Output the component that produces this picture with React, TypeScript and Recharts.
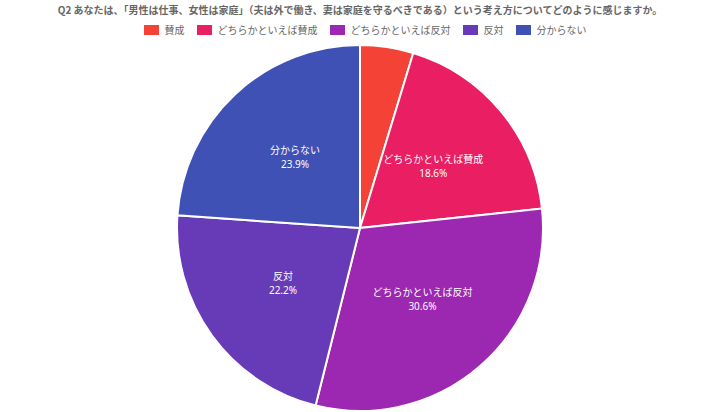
import React from 'react';
import { PieChart, Pie, Cell } from 'recharts';

const title = 'Q2 あなたは、「男性は仕事、女性は家庭」（夫は外で働き、妻は家庭を守るべきである）という考え方についてどのように感じますか。';
const categories = ['賛成', 'どちらかといえば賛成', 'どちらかといえば反対', '反対', '分からない'];
const shares = [4.7, 18.6, 30.6, 22.2, 23.9];
const colors = ['#f44336', '#e91e63', '#9c27b0', '#673ab7', '#3f51b5'];

const data = categories.map((name, i) => ({ name, value: shares[i] }));

const FONT = '"Noto Sans CJK JP", "Noto Sans", sans-serif';
const RAD = Math.PI / 180;

const renderLabel = (props: any) => {
    const { cx, cy, midAngle, outerRadius, name, value } = props;
    // tiny slices get no label
    if (value < 5) return null;
    const r = outerRadius * 0.52;
    const x = cx + r * Math.cos(-midAngle * RAD);
    const y = cy + r * Math.sin(-midAngle * RAD);
    return (
        <g>
            <text x={x} y={y - 4} fill="#fff" textAnchor="middle" fontSize={10} fontFamily={FONT}>
                {name}
            </text>
            <text x={x} y={y + 10} fill="#fff" textAnchor="middle" fontSize={10} fontFamily='"Noto Sans", sans-serif'>
                {value.toFixed(1)}%
            </text>
        </g>
    );
};

const App: React.FC = () => {
    return (
        <div style={{ position: 'fixed', top: 0, left: 0, width: 720, height: 412, background: '#fff', fontFamily: FONT }}>
            <div style={{ position: 'absolute', top: 2, left: 0, width: 720, textAlign: 'center', fontSize: 10, fontWeight: 'bold', color: '#666', lineHeight: '16px' }}>
                {title}
            </div>
            <div style={{ position: 'absolute', top: 22, left: 0, width: 742, display: 'flex', justifyContent: 'center', fontSize: 10, color: '#666', lineHeight: '16px' }}>
                {categories.map((c, i) => (
                    <div key={c} style={{ display: 'flex', alignItems: 'center', marginRight: 12 }}>
                        <span style={{ display: 'inline-block', width: 15, height: 10, background: colors[i], marginRight: 6 }} />
                        <span>{c}</span>
                    </div>
                ))}
            </div>
            <div style={{ position: 'absolute', top: 0, left: 0 }}>
                <PieChart width={720} height={412} margin={{ top: 0, right: 0, bottom: 0, left: 0 }}>
                    <Pie
                        data={data}
                        dataKey="value"
                        nameKey="name"
                        cx={360}
                        cy={228}
                        outerRadius={183}
                        startAngle={90}
                        endAngle={-270}
                        stroke="#fff"
                        strokeWidth={2}
                        label={renderLabel}
                        labelLine={false}
                        isAnimationActive={false}
                    >
                        {data.map((d, i) => (
                            <Cell key={d.name} fill={colors[i]} />
                        ))}
                    </Pie>
                </PieChart>
            </div>
        </div>
    );
};

export default App;
